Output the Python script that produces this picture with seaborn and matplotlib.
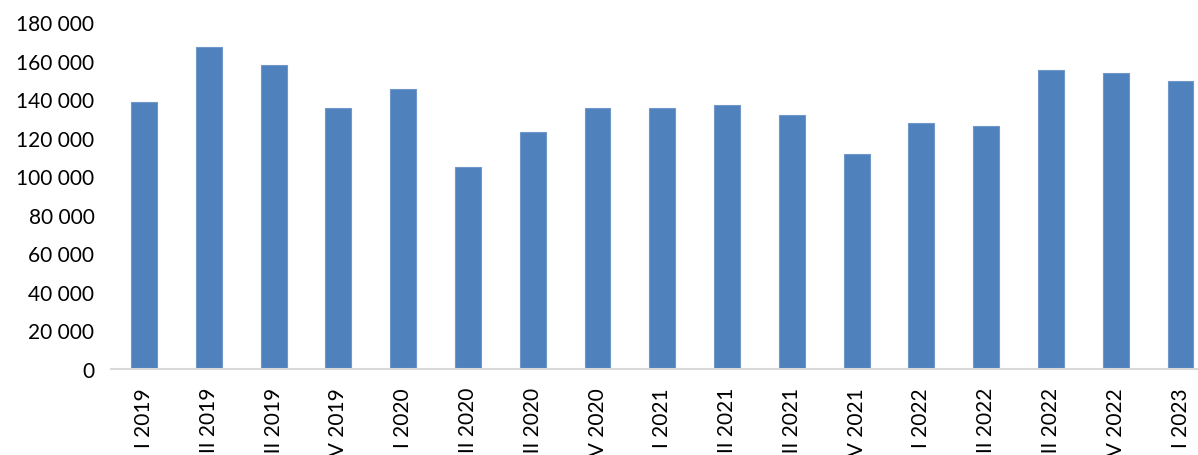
import matplotlib
matplotlib.use("Agg")
import matplotlib.pyplot as plt
import matplotlib.ticker as mticker
import pandas as pd
import seaborn as sns

quarters = ["I 2019", "II 2019", "III 2019", "IV 2019",
            "I 2020", "II 2020", "III 2020", "IV 2020",
            "I 2021", "II 2021", "III 2021", "IV 2021",
            "I 2022", "II 2022", "III 2022", "IV 2022",
            "I 2023"]
values = [138500, 167000, 157800, 135300,
          145200, 104900, 123000, 135500,
          135300, 136900, 131800, 111500,
          127600, 126000, 155000, 153500,
          149300]

df = pd.DataFrame({"quarter": quarters, "value": values})

sns.set_style("white")
plt.rcParams["font.family"] = ["Lato", "DejaVu Sans"]

fig = plt.figure(figsize=(11.98, 4.56), dpi=100)
ax = fig.add_axes([0.0927, 0.1886, 0.9073, 0.761])

sns.barplot(data=df, x="quarter", y="value", color="#4F81BD",
            width=0.4, saturation=1, edgecolor="#6F97C9", linewidth=0.8, ax=ax)

ax.set_xlim(-0.51, 16.27)
ax.set_ylim(0, 180000)
ax.set_yticks(range(0, 180001, 20000))
ax.yaxis.set_major_formatter(mticker.FuncFormatter(lambda v, p: f"{int(v):,}".replace(",", " ")))
ax.set_xlabel("")
ax.set_ylabel("")

for s in ["top", "right", "left"]:
    ax.spines[s].set_visible(False)
ax.spines["bottom"].set_color("#D9D9D9")
ax.spines["bottom"].set_linewidth(1.5)

ax.tick_params(axis="y", length=0, labelsize=15, pad=12, labelcolor="black")
ax.tick_params(axis="x", length=0, labelsize=15, pad=13, labelcolor="black", labelrotation=90)

fig.savefig("out.png", dpi=100)
